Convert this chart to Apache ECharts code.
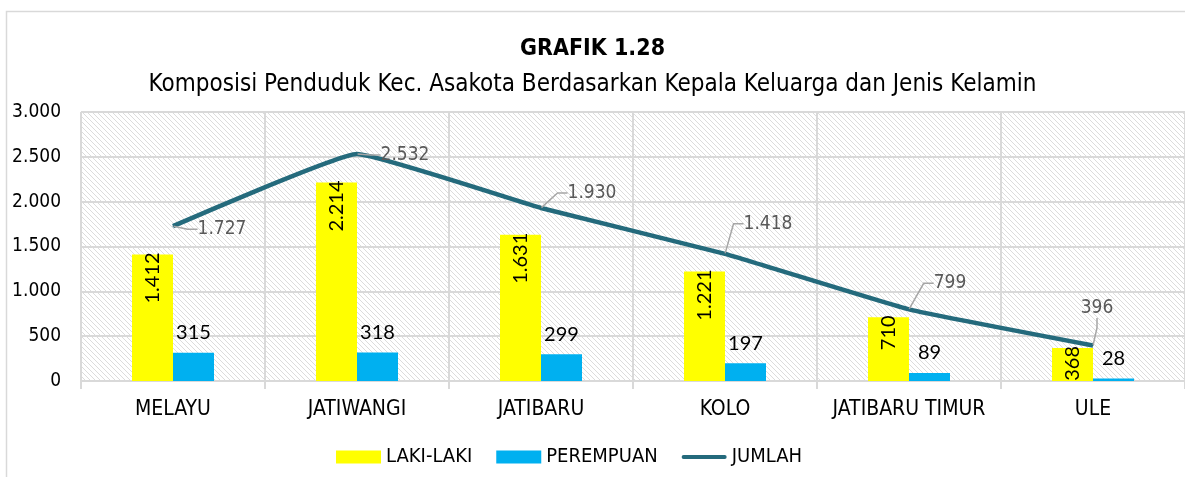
<!DOCTYPE html>
<html>
<head>
<meta charset="utf-8">
<script src="https://cdn.jsdelivr.net/npm/echarts@6/dist/echarts.min.js"></script>
<style>
html, body { margin: 0; padding: 0; background: #fff; }
#chart { width: 1185px; height: 477px; }
</style>
</head>
<body>
<div id="chart"></div>
<script>
var categories = ['MELAYU', 'JATIWANGI', 'JATIBARU', 'KOLO', 'JATIBARU TIMUR', 'ULE'];
var lakiLaki = [1412, 2214, 1631, 1221, 710, 368];
var perempuan = [315, 318, 299, 197, 89, 28];
var jumlah = [1727, 2532, 1930, 1418, 799, 396];

// where the JUMLAH labels sit, relative to their point
var jumlahLabelShift = [[49, 3], [48, 1], [51, -15], [43, -30], [41, -26], [4, -37]];

var narrow = '"DejaVu Sans Condensed", "Liberation Sans Narrow", sans-serif';

function dots(v) {
    return String(v).replace(/\B(?=(\d{3})+(?!\d))/g, '.');
}

// hatched plot background
var hatch = document.createElement('canvas');
hatch.width = 5;
hatch.height = 5;
var hc = hatch.getContext('2d');
hc.fillStyle = '#ffffff';
hc.fillRect(0, 0, 5, 5);
hc.strokeStyle = '#dcdcdc';
hc.lineWidth = 1;
hc.beginPath();
hc.moveTo(-1, -1); hc.lineTo(6, 6);
hc.moveTo(-1, 4); hc.lineTo(1, 6);
hc.moveTo(4, -1); hc.lineTo(6, 1);
hc.stroke();

var myChart = echarts.init(document.getElementById('chart'));
var option = {
    backgroundColor: '#fff',
    animation: false,
    graphic: [
        {
            type: 'rect',
            shape: {x: 6.5, y: 11.5, width: 1300, height: 600},
            style: {fill: 'none', stroke: '#d9d9d9', lineWidth: 1.5},
            z: -1
        }
    ],
    title: [
        {
            text: 'GRAFIK 1.28',
            left: 'center',
            top: 33,
            textStyle: {fontFamily: narrow, fontSize: 23, fontWeight: 'bold', color: '#000'}
        },
        {
            text: 'Komposisi Penduduk Kec. Asakota Berdasarkan Kepala Keluarga dan Jenis Kelamin',
            left: 'center',
            top: 68,
            textStyle: {fontFamily: narrow, fontSize: 24, fontWeight: 'normal', color: '#000'}
        }
    ],
    legend: {
        top: 442,
        left: 331,
        itemWidth: 45,
        itemHeight: 13,
        itemGap: 24,
        textStyle: {fontFamily: narrow, fontSize: 20, color: '#000'},
        data: [
            {name: 'LAKI-LAKI', icon: 'rect'},
            {name: 'PEREMPUAN', icon: 'rect'},
            {name: 'JUMLAH', icon: 'path://M2 0H88A2 2 0 0 1 88 8H2A2 2 0 0 1 2 0Z'}
        ]
    },
    grid: {
        left: 81,
        right: 0,
        top: 112,
        bottom: 96,
        show: true,
        borderWidth: 0,
        backgroundColor: {image: hatch, repeat: 'repeat'}
    },
    xAxis: {
        type: 'category',
        data: categories,
        axisLine: {lineStyle: {color: '#d9d9d9', width: 2}},
        axisTick: {show: true, interval: 0, length: 8, lineStyle: {color: '#d9d9d9', width: 2}},
        splitLine: {show: true, interval: 0, lineStyle: {color: '#d9d9d9', width: 2}},
        axisLabel: {interval: 0, fontFamily: narrow, fontSize: 21, color: '#000', margin: 18}
    },
    yAxis: {
        type: 'value',
        min: 0,
        max: 3000,
        interval: 500,
        axisLine: {show: false},
        axisTick: {show: false},
        splitLine: {lineStyle: {color: '#d9d9d9', width: 2}},
        axisLabel: {
            fontFamily: narrow, fontSize: 19, color: '#000', margin: 20,
            formatter: function (v) { return dots(v); }
        }
    },
    series: [
        {
            name: 'LAKI-LAKI',
            type: 'bar',
            data: lakiLaki,
            barWidth: 41,
            barGap: '0%',
            itemStyle: {color: '#ffff00'},
            label: {
                show: true,
                position: 'insideTop',
                distance: -2,
                rotate: 90,
                align: 'right',
                verticalAlign: 'middle',
                fontFamily: 'Lato, "Open Sans", sans-serif',
                fontSize: 20,
                color: '#000',
                formatter: function (p) { return dots(p.value); }
            }
        },
        {
            name: 'PEREMPUAN',
            type: 'bar',
            data: perempuan,
            barWidth: 41,
            barGap: '0%',
            itemStyle: {color: '#00b0f0'},
            label: {
                show: true,
                position: 'top',
                distance: 10,
                fontFamily: 'Lato, "Open Sans", sans-serif',
                fontSize: 20,
                color: '#000',
                formatter: function (p) { return dots(p.value); }
            }
        },
        {
            name: 'JUMLAH',
            type: 'line',
            data: jumlah,
            smooth: 0.1,
            symbol: 'circle',
            symbolSize: 1,
            showSymbol: true,
            lineStyle: {color: '#246a7c', width: 4.5},
            itemStyle: {color: '#246a7c'},
            z: 5,
            label: {
                show: true,
                position: 'inside',
                fontFamily: narrow,
                fontSize: 19,
                color: '#595959',
                formatter: function (p) { return dots(p.value); }
            },
            labelLine: {
                show: true,
                length2: 10,
                lineStyle: {color: '#a6a6a6', width: 1.5}
            },
            labelLayout: function (p) {
                var s = jumlahLabelShift[p.dataIndex];
                return {dx: s[0], dy: s[1]};
            }
        }
    ]
};
myChart.setOption(option);
</script>
</body>
</html>
